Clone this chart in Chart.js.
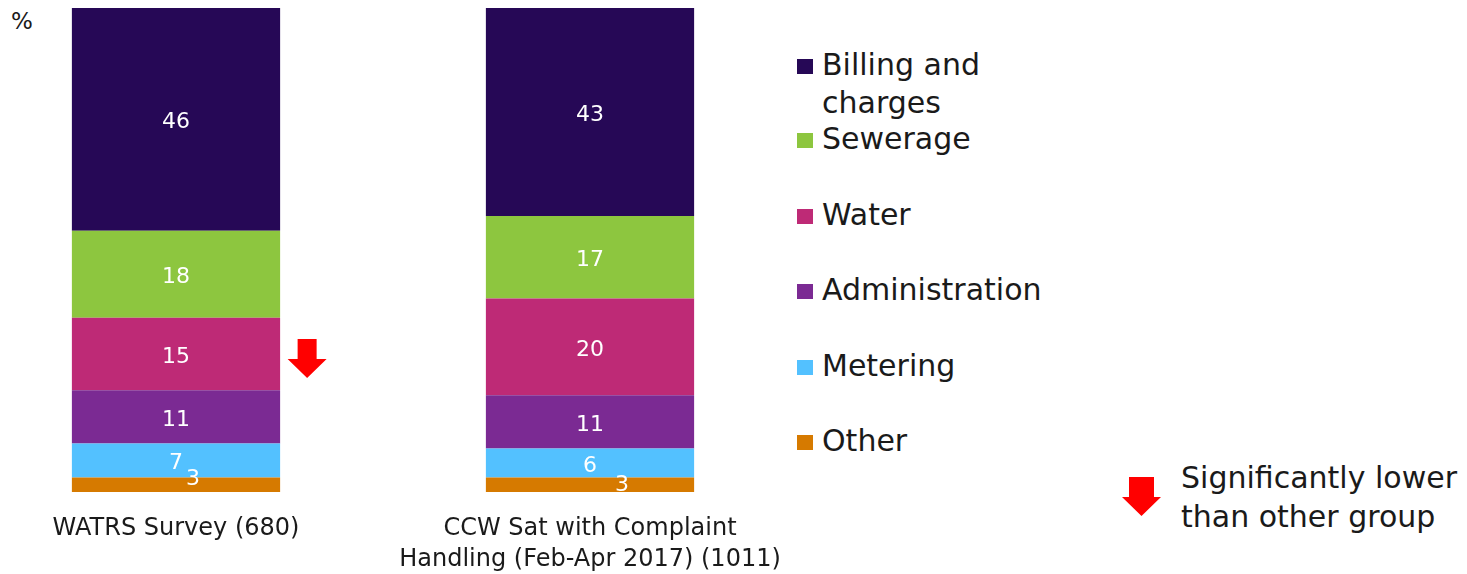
<!DOCTYPE html>
<html>
<head>
<meta charset="utf-8">
<script src="https://cdn.jsdelivr.net/npm/chart.js@4.4.1/dist/chart.umd.min.js"></script>
<style>
  html, body { margin:0; padding:0; background:#fff; }
  body { width:1467px; height:574px; position:relative; overflow:hidden; font-family:"DejaVu Sans", sans-serif; color:#1a1a1a; }
  #wrap { position:absolute; left:-31px; top:0; width:828px; height:574px; }
  #pct { position:absolute; left:11px; top:8px; font-size:23px; }
  #legend { position:absolute; left:797px; top:0; }
  .li { position:absolute; left:0; width:260px; font-size:30px; line-height:38px; }
  .li span.sw { position:absolute; left:0; width:16px; height:15px; }
  .li span.tx { display:block; margin-left:25px; width:230px; }
  #sig { position:absolute; left:1122px; top:458px; }
  #sig svg { position:absolute; left:0; top:19px; }
  #sig div { position:absolute; left:59px; top:0; width:300px; font-size:30px; line-height:39px; }
</style>
</head>
<body>
<div id="pct">%</div>
<div id="wrap"><canvas id="c"></canvas></div>
<div id="legend"></div>
<div id="sig">
  <svg width="40" height="40" viewBox="0 0 40 40"><polygon points="7,0 32,0 32,20 39,20 19.5,39 0,20 7,20" fill="#ff0000"/></svg>
  <div>Significantly lower<br>than other group</div>
</div>
<script>
(function(){
  // categories (x axis), multi-line labels
  var groups = [['WATRS Survey (680)'], ['CCW Sat with Complaint', 'Handling (Feb-Apr 2017) (1011)']];

  // series, bottom of stack first
  var names   = ['Other', 'Metering', 'Administration', 'Water', 'Sewerage', 'Billing and charges'];
  var other   = [3, 3];
  var meter   = [7, 6];
  var admin   = [11, 11];
  var water   = [15, 20];
  var sewer   = [18, 17];
  var billing = [46, 43];
  var colors  = ['#d67a00', '#53c1ff', '#7b2a93', '#be2a76', '#8dc63f', '#260856'];

  // significantly lower than the other group (Water)
  var waterLower = [true, false];

  var series = [other, meter, admin, water, sewer, billing];
  var datasets = series.map(function(v, i){
    return { label:names[i], data:v, backgroundColor:colors[i], borderWidth:0,
             categoryPercentage:1, barPercentage:0.503 };
  });

  // small nudge for the thin "Other" labels, as in the original
  var otherShift = [[17, -6], [32, 0]];

  var labelsPlugin = {
    id:'segLabels',
    afterDatasetsDraw: function(chart){
      var ctx = chart.ctx;
      ctx.save();
      ctx.fillStyle = '#fff';
      ctx.font = '22px "DejaVu Sans"';
      ctx.textAlign = 'center';
      ctx.textBaseline = 'middle';
      chart.data.datasets.forEach(function(ds, di){
        chart.getDatasetMeta(di).data.forEach(function(el, i){
          var x = el.x, y = (el.y + el.base) / 2 + 3;
          if (di === 0) { x += otherShift[i][0]; y += otherShift[i][1] - 2; }
          ctx.fillText(String(ds.data[i]), x, y);
        });
      });
      // red arrow beside significantly lower Water segment
      var wm = chart.getDatasetMeta(3);
      waterLower.forEach(function(f, i){
        if (!f) return;
        var el = wm.data[i];
        var cx = el.x + el.width / 2 + 27;
        var top = (el.y + el.base) / 2 - 15;
        ctx.fillStyle = '#ff0000';
        ctx.beginPath();
        ctx.moveTo(cx - 9.5, top);
        ctx.lineTo(cx + 9.5, top);
        ctx.lineTo(cx + 9.5, top + 20);
        ctx.lineTo(cx + 19.5, top + 20);
        ctx.lineTo(cx, top + 39);
        ctx.lineTo(cx - 19.5, top + 20);
        ctx.lineTo(cx - 9.5, top + 20);
        ctx.closePath();
        ctx.fill();
      });
      ctx.restore();
    }
  };

  new Chart(document.getElementById('c'), {
    type:'bar',
    data:{ labels:groups, datasets:datasets },
    options:{
      responsive:true, maintainAspectRatio:false, animation:false,
      layout:{ padding:{ top:8, left:0, right:0, bottom:0 } },
      plugins:{ legend:{ display:false }, tooltip:{ enabled:false } },
      scales:{
        x:{ stacked:true, grid:{ display:false, drawTicks:false }, border:{ display:false },
            ticks:{ color:'#1a1a1a', padding:21, font:{ family:'"DejaVu Sans"', size:24, lineHeight:1.3 }, maxRotation:0, autoSkip:false },
            afterFit:function(s){ s.height = 82; s.paddingLeft = 0; s.paddingRight = 0; } },
        y:{ stacked:true, min:0, max:100, display:false }
      }
    },
    plugins:[labelsPlugin]
  });

  // legend, top to bottom as in the original
  var lg = document.getElementById('legend');
  var tops = [46, 120, 196, 271, 347, 422];
  for (var k = 0; k < names.length; k++) {
    var i = names.length - 1 - k;
    var d = document.createElement('div');
    d.className = 'li';
    d.style.top = tops[k] + 'px';
    var sw = document.createElement('span');
    sw.className = 'sw';
    sw.style.background = colors[i];
    sw.style.top = '13px';
    var tx = document.createElement('span');
    tx.className = 'tx';
    tx.textContent = names[i];
    d.appendChild(sw); d.appendChild(tx);
    lg.appendChild(d);
  }
})();
</script>
</body>
</html>
